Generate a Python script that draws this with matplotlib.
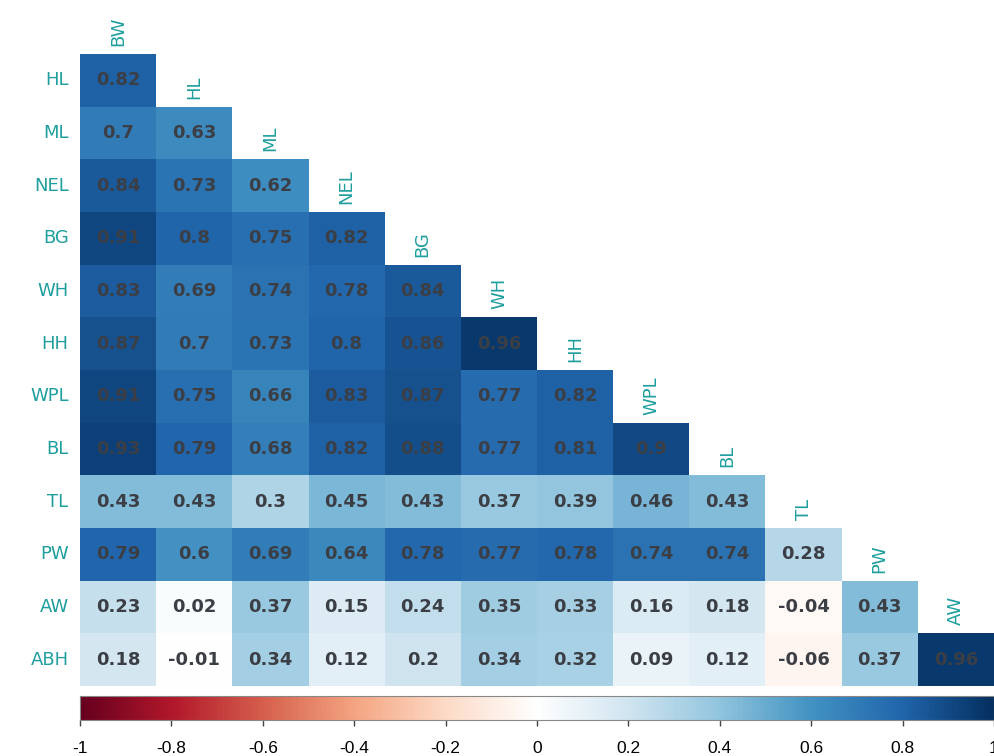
import numpy as np
import matplotlib
matplotlib.use("Agg")
import matplotlib.pyplot as plt
from matplotlib.colors import LinearSegmentedColormap

plt.rcParams['font.family'] = ['Liberation Sans', 'DejaVu Sans']

col_names = ['BW', 'HL', 'ML', 'NEL', 'BG', 'WH', 'HH', 'WPL', 'BL', 'TL', 'PW', 'AW']
row_names = ['HL', 'ML', 'NEL', 'BG', 'WH', 'HH', 'WPL', 'BL', 'TL', 'PW', 'AW', 'ABH']

# lower triangle, one list per row
r_HL = [0.82]
r_ML = [0.7, 0.63]
r_NEL = [0.84, 0.73, 0.62]
r_BG = [0.91, 0.8, 0.75, 0.82]
r_WH = [0.83, 0.69, 0.74, 0.78, 0.84]
r_HH = [0.87, 0.7, 0.73, 0.8, 0.86, 0.96]
r_WPL = [0.91, 0.75, 0.66, 0.83, 0.87, 0.77, 0.82]
r_BL = [0.93, 0.79, 0.68, 0.82, 0.88, 0.77, 0.81, 0.9]
r_TL = [0.43, 0.43, 0.3, 0.45, 0.43, 0.37, 0.39, 0.46, 0.43]
r_PW = [0.79, 0.6, 0.69, 0.64, 0.78, 0.77, 0.78, 0.74, 0.74, 0.28]
r_AW = [0.23, 0.02, 0.37, 0.15, 0.24, 0.35, 0.33, 0.16, 0.18, -0.04, 0.43]
r_ABH = [0.18, -0.01, 0.34, 0.12, 0.2, 0.34, 0.32, 0.09, 0.12, -0.06, 0.37, 0.96]
rows = [r_HL, r_ML, r_NEL, r_BG, r_WH, r_HH, r_WPL, r_BL, r_TL, r_PW, r_AW, r_ABH]

cbar_ticks = [-1, -0.8, -0.6, -0.4, -0.2, 0, 0.2, 0.4, 0.6, 0.8, 1]
cbar_labels = ['-1', '-0.8', '-0.6', '-0.4', '-0.2', '0', '0.2', '0.4', '0.6', '0.8', '1']

n = len(col_names)
mat = np.full((n, n), np.nan)
for i, r in enumerate(rows):
    mat[i, :len(r)] = r
data = np.ma.masked_invalid(mat)

cmap = LinearSegmentedColormap.from_list('rdbu2', ["#67001F", "#B2182B", "#D6604D", "#F4A582", "#FDDBC7",
                                                   "#FFFFFF", "#D1E5F0", "#92C5DE", "#4393C3", "#2166AC",
                                                   "#053061"], N=200)
lab_col = '#1E9E9E'
W, H = 994, 756

fig = plt.figure(figsize=(W / 100, H / 100), dpi=100)
ax = fig.add_axes([80 / W, (H - 686) / H, 914 / W, 632 / H])
ax.pcolormesh(np.arange(n + 1), np.arange(n + 1), data, cmap=cmap, vmin=-1, vmax=1)
ax.set_xlim(0, n)
ax.set_ylim(n, 0)
ax.axis('off')

for i, r in enumerate(rows):
    for j, v in enumerate(r):
        ax.text(j + 0.5, i + 0.5, '%g' % v, ha='center', va='center', family='DejaVu Sans',
                fontsize=13, fontweight='bold', color='#3b3f45')
    ax.text(-0.15, i + 0.5, row_names[i], ha='right', va='center', family='DejaVu Sans',
            fontsize=13, color=lab_col)

for j, name in enumerate(col_names):
    ax.text(j + 0.5, j - 0.15, name, ha='center', va='bottom', rotation=90, family='DejaVu Sans',
            fontsize=13, color=lab_col, clip_on=False)

# colour legend below the matrix
cax = fig.add_axes([80 / W, (H - 720) / H, 914 / W, 24 / H])
grad = np.linspace(-1, 1, 400).reshape(1, -1)
cax.imshow(grad, cmap=cmap, vmin=-1, vmax=1, aspect='auto', extent=[-1, 1, 0, 1])
cax.set_xlim(-1, 1)
cax.set_yticks([])
cax.set_xticks(cbar_ticks)
cax.set_xticklabels(cbar_labels, fontsize=12.5)
cax.tick_params(axis='x', length=4, width=1, pad=11, color='#444444')
for s in cax.spines.values():
    s.set_color('#888888')
    s.set_linewidth(0.8)

fig.savefig('out.png', dpi=100)
